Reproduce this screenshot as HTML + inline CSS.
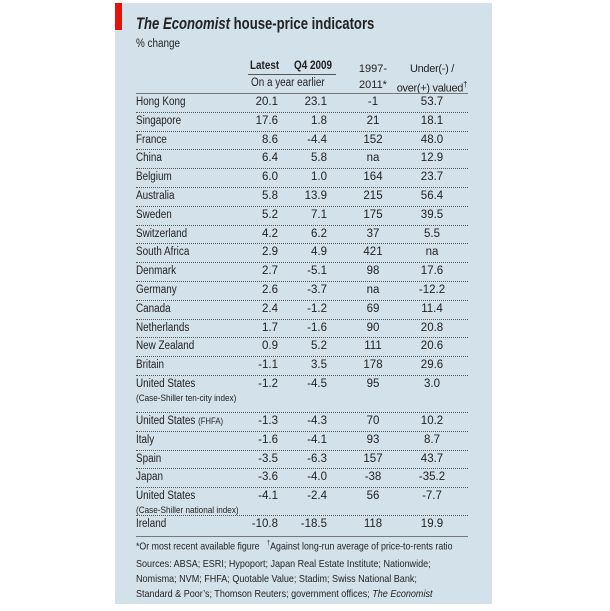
<!DOCTYPE html>
<html><head><meta charset="utf-8"><style>
body{margin:0;width:610px;height:611px;background:#fff;font-family:"Liberation Sans",sans-serif;position:relative;overflow:hidden}
#panel{position:absolute;left:115px;top:3px;width:377px;height:601px;background:#d3e1ea}
#tab{position:absolute;left:115px;top:3px;width:7px;height:27px;background:#e3120b}
.t{position:absolute;white-space:nowrap;color:#222;font-size:11.5px}
.s{transform:scaleX(0.86);transform-origin:0 0}
.r{text-align:right}.c{text-align:center}
.dot{position:absolute;left:136px;width:332px;border-top:1px dotted #555}
.sol{position:absolute;left:136px;width:332px;border-top:1px solid #777}
</style></head><body>
<div id="panel"></div>
<div id="tab"></div>
<div class="t" style="left:136px;top:15px;font-size:16.5px;font-weight:bold;transform:scaleX(0.795);transform-origin:0 0"><i>The Economist</i> house-price indicators</div>
<div class="t s" style="left:136px;top:38px">% change</div>
<div class="t s" style="left:250px;top:60px;font-weight:bold">Latest</div>
<div class="t s" style="left:294px;top:60px;font-weight:bold">Q4 2009</div>
<div style="position:absolute;left:248px;top:74px;width:88px;border-top:1px solid #555"></div>
<div class="t s" style="left:251px;top:77px">On a year earlier</div>
<div class="t c" style="left:347px;top:61px;width:52px;line-height:16px;font-size:11px">1997-<br>2011*</div>
<div class="t c" style="left:387px;top:61px;width:90px;line-height:16px;font-size:11px;letter-spacing:-0.3px">Under(-) /<br>over(+) valued<sup style="font-size:8px">†</sup></div>
<div class="sol" style="top:93px"></div>
<div id="rows"></div>
<div class="t s" style="left:136px;top:540px;font-size:10.5px;transform:scaleX(0.84)">*Or most recent available figure &nbsp;&nbsp;<sup style="font-size:7px">†</sup>Against long-run average of price-to-rents ratio</div>
<div class="t" style="left:136px;top:557px;font-size:10.5px;line-height:15px;transform:scaleX(0.86);transform-origin:0 0">Sources: ABSA; ESRI; Hypoport; Japan Real Estate Institute; Nationwide;<br>Nomisma; NVM; FHFA; Quotable Value; Stadim; Swiss National Bank;<br>Standard &amp; Poor’s; Thomson Reuters; government offices; <i>The Economist</i></div>
<script>
const countries=["Hong Kong","Singapore","France","China","Belgium","Australia","Sweden","Switzerland","South Africa","Denmark","Germany","Canada","Netherlands","New Zealand","Britain","United States|(Case-Shiller ten-city index)","United States <span style='font-size:9px'>(FHFA)</span>","Italy","Spain","Japan","United States|(Case-Shiller national index)","Ireland"];
const latest=["20.1","17.6","8.6","6.4","6.0","5.8","5.2","4.2","2.9","2.7","2.6","2.4","1.7","0.9","-1.1","-1.2","-1.3","-1.6","-3.5","-3.6","-4.1","-10.8"];
const q42009=["23.1","1.8","-4.4","5.8","1.0","13.9","7.1","6.2","4.9","-5.1","-3.7","-1.2","-1.6","5.2","3.5","-4.5","-4.3","-4.1","-6.3","-4.0","-2.4","-18.5"];
const since1997=["-1","21","152","na","164","215","175","37","421","98","na","69","90","111","178","95","70","93","157","-38","56","118"];
const valued=["53.7","18.1","48.0","12.9","23.7","56.4","39.5","5.5","na","17.6","-12.2","11.4","20.8","20.6","29.6","3.0","10.2","8.7","43.7","-35.2","-7.7","19.9"];
const R=document.getElementById('rows');
let y=93;
function add(cls,txt,x,top,w,extra){const d=document.createElement('div');d.className='t '+cls;d.innerHTML=txt;d.style.left=x+'px';d.style.top=top+'px';if(w)d.style.width=w+'px';if(extra)d.style.cssText+=extra;R.appendChild(d);return d;}
countries.forEach((c,i)=>{
 const two=c.includes('|');const h=two?(i==countries.length-2?28:37):18.8;
 const ty=y+3;
 const parts=c.split('|');
 const n=add('s',parts[0],136,ty);
 
 
 if(two){const s=add('s',parts[1],136,ty+15,0,'font-size:9.5px');
  
  }
 const a=add('r',latest[i],230,ty,48);
 
 
 const b=add('r',q42009[i],284,ty,43);
 
 
 const d=add('c',since1997[i],348,ty,50);
 
 
 const e=add('c',valued[i],407,ty,50);
 
 
 y+=h;
 const l=document.createElement('div');l.className=(i==countries.length-1)?'sol':'dot';l.style.top=(i==countries.length-1?y+2:y)+'px';
 
 
 R.appendChild(l);
});
</script>
</body></html>
